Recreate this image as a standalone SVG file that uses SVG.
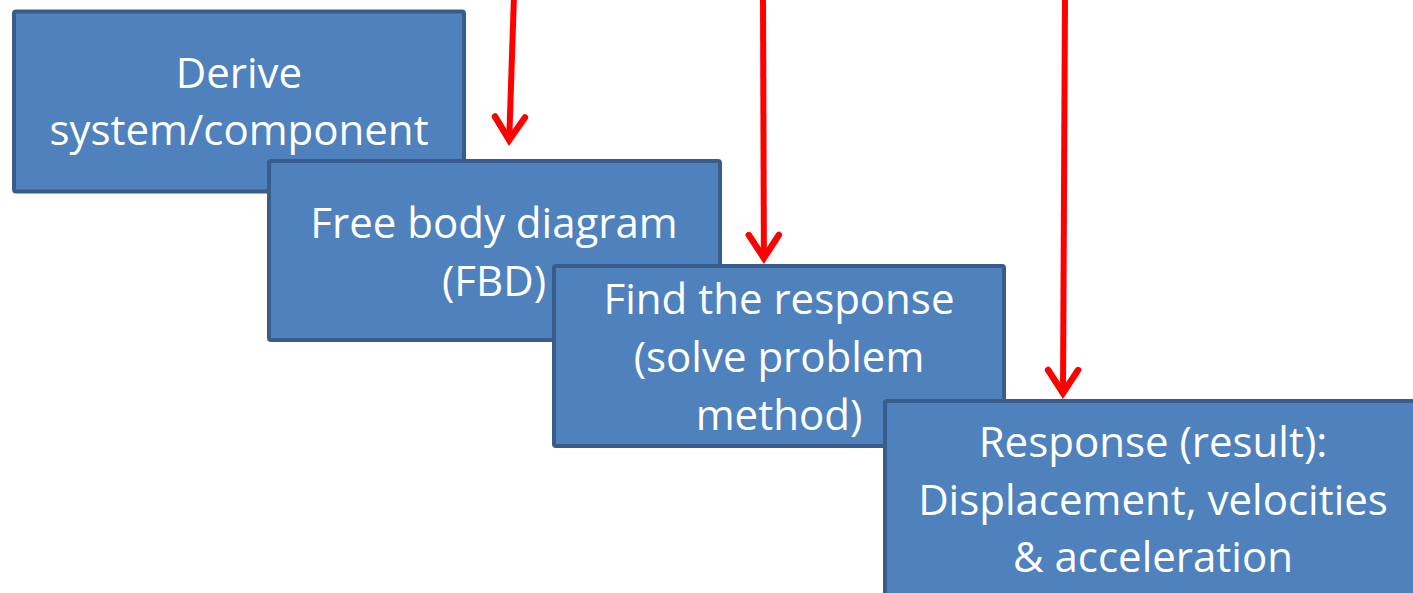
<svg xmlns="http://www.w3.org/2000/svg" width="1413" height="593" viewBox="0 0 1413 593">
  <style>
    .box { fill: #4F81BD; stroke: #385D8A; stroke-width: 4; }
    .lbl { font-family: "Open Sans", "Liberation Sans", sans-serif; font-size: 42px; fill: #FFFFFF; text-anchor: middle; }
    .arrow { stroke: #FF0000; stroke-width: 6; fill: none; marker-end: url(#head); }
  </style>
  <defs>
    <marker id="head" markerUnits="userSpaceOnUse" orient="auto" refX="0" refY="0" markerWidth="60" markerHeight="60" viewBox="-40 -30 60 60" overflow="visible">
      <path d="M -23 -15 L 0 0 L -23 15" fill="none" stroke="#FF0000" stroke-width="6.5" stroke-linecap="round" stroke-linejoin="miter" stroke-miterlimit="10"/>
    </marker>
  </defs>
  <rect width="1413" height="593" fill="#FFFFFF"/>

  <g id="node-derive">
    <rect class="box" x="14" y="11.5" width="450" height="180" rx="2"/>
    <text class="lbl" x="239" y="88">Derive</text>
    <text class="lbl" x="239" y="145">system/component</text>
  </g>

  <g id="node-fbd">
    <rect class="box" x="269" y="161" width="451" height="179" rx="2"/>
    <text class="lbl" x="494" y="238">Free body diagram</text>
    <text class="lbl" x="494" y="296">(FBD)</text>
  </g>

  <g id="node-find">
    <rect class="box" x="554" y="266" width="450" height="180" rx="2"/>
    <text class="lbl" x="779" y="314">Find the response</text>
    <text class="lbl" x="779" y="372">(solve problem</text>
    <text class="lbl" x="779" y="430">method)</text>
  </g>

  <g id="node-result">
    <rect class="box" x="885" y="401" width="540" height="250" rx="2"/>
    <text class="lbl" x="1153" y="457">Response (result):</text>
    <text class="lbl" x="1153" y="515">Displacement, velocities</text>
    <text class="lbl" x="1153" y="572">&amp; acceleration</text>
  </g>

  <g id="connectors">
    <line class="arrow" x1="514" y1="-5" x2="509.2" y2="140"/>
    <line class="arrow" x1="763" y1="-5" x2="763.9" y2="258"/>
    <line class="arrow" x1="1065" y1="-5" x2="1063" y2="393"/>
  </g>
</svg>
